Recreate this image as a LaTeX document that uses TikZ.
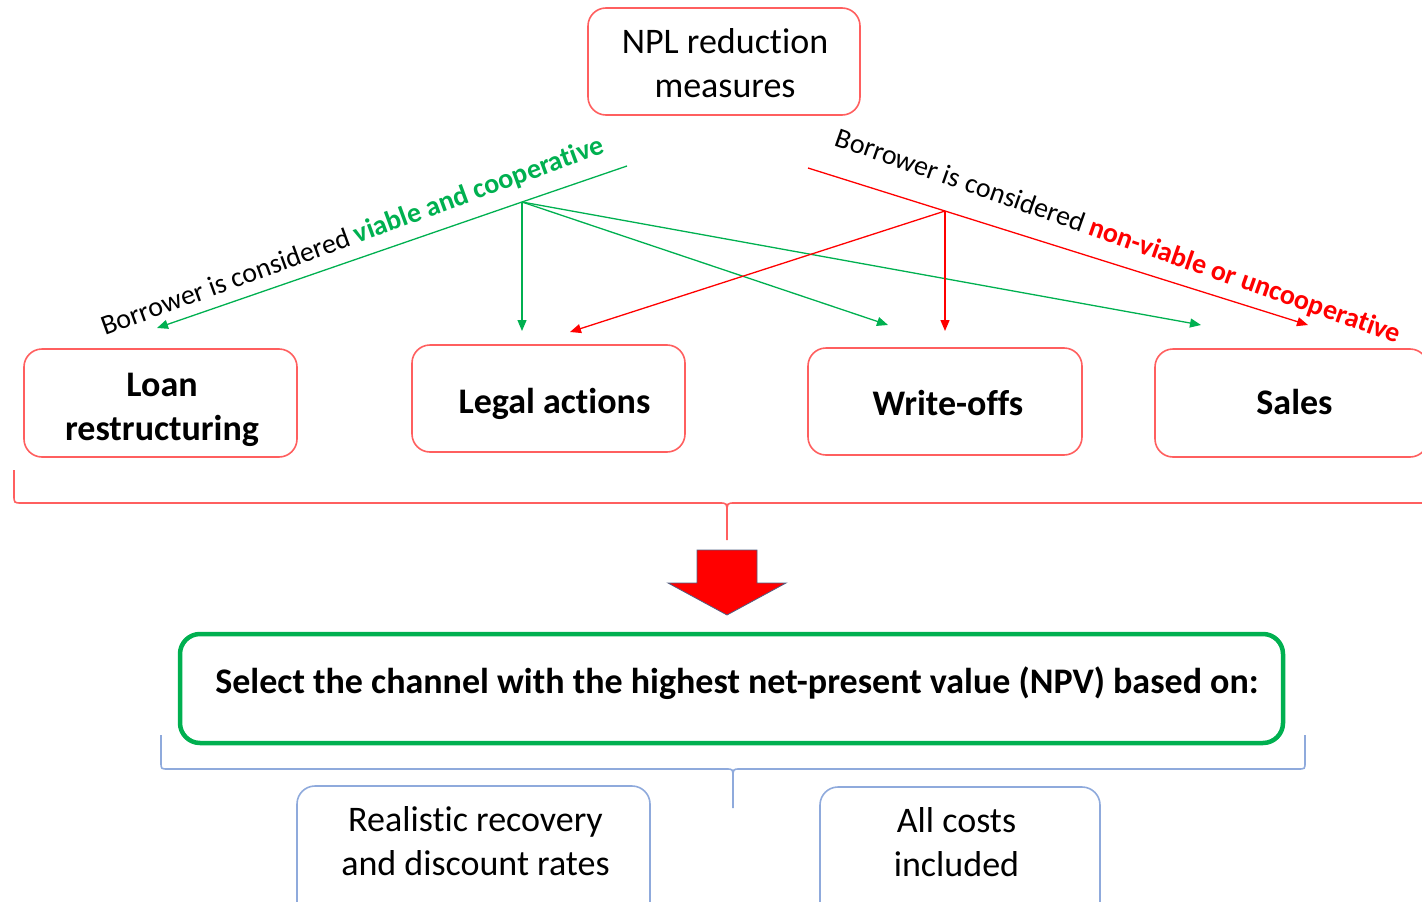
\documentclass[tikz,border=0pt]{standalone}
\usepackage{fontspec}
\setmainfont{Carlito}[Ligatures=NoCommon]
\usetikzlibrary{arrows.meta}
\definecolor{vgreen}{RGB}{0,176,80}
\definecolor{boxred}{RGB}{255,95,95}
\definecolor{lblue}{RGB}{143,170,220}
\definecolor{slate}{RGB}{80,95,130}
\tikzset{
  redbox/.style={draw=boxred, line width=1.6pt, rounded corners=18pt, inner sep=0pt},
  bluebox/.style={draw=lblue, line width=1.6pt, rounded corners=18pt},
  txt/.style={align=center, font=\fontsize{36}{44}\selectfont},
  btxt/.style={align=center, font=\fontsize{36}{44}\selectfont\bfseries},
  garrow/.style={draw=vgreen, line width=1.3pt, -{Triangle[length=11pt,width=9pt]}},
  rarrow/.style={draw=red, line width=1.3pt, -{Triangle[length=11pt,width=9pt]}},
  gline/.style={draw=vgreen, line width=1.3pt},
  rline/.style={draw=red, line width=1.3pt},
  lbl/.style={font=\fontsize{28}{32}\selectfont, inner sep=0pt},
}
\begin{document}
\begin{tikzpicture}[x=1pt,y=-1pt]
\useasboundingbox (0,0) rectangle (1422,902);
\clip (0,0) rectangle (1422,902);

% top node
\node[redbox, minimum width=272pt, minimum height=107pt] (npl) at (724,61.5) {};
\node[txt] (npltxt) at (725,63.5) {NPL reduction\\measures};

% channel boxes
\node[redbox, minimum width=273pt, minimum height=108pt] (loan) at (160.5,403) {};
\node[btxt] (loantxt) at (162,410) {Loan\\restructuring};
\node[redbox, minimum width=273pt, minimum height=107pt] (legal) at (548.5,398.5) {};
\node[btxt] (legaltxt) at (554.5,403.5) {Legal actions};
\node[redbox, minimum width=274pt, minimum height=107pt] (wo) at (945,401.5) {};
\node[btxt] (wotxt) at (948,402.5) {Write-offs};
\node[redbox, minimum width=273pt, minimum height=108pt] (sales) at (1291.5,403) {};
\node[btxt] (salestxt) at (1294.5,402) {Sales};

% green branch
\coordinate (gstart) at (627,166);
\coordinate (ghub) at (522,202);
\coordinate (gLoan) at (157,328);
\coordinate (gLegal) at (522,331);
\coordinate (gWo) at (888,325);
\coordinate (gSales) at (1201,325);
\draw[gline] (gstart) -- (ghub);
\draw[garrow] (ghub) -- (gLoan);
\draw[garrow] (ghub) -- (gLegal);
\draw[garrow] (ghub) -- (gWo);
\draw[garrow] (ghub) -- (gSales);

% red branch
\coordinate (rstart) at (808,168);
\coordinate (rhub) at (945,211);
\coordinate (rSales) at (1308,325);
\coordinate (rWo) at (945,331);
\coordinate (rLegal) at (570,332);
\draw[rline] (rstart) -- (rhub);
\draw[rarrow] (rhub) -- (rSales);
\draw[rarrow] (rhub) -- (rWo);
\draw[rarrow] (rhub) -- (rLegal);

% labels
\node[lbl, rotate=20.1] (lblv) at (353,237) {Borrower is considered \textcolor{vgreen}{\bfseries viable and cooperative}};
\node[lbl, rotate=-19.4] (lbln) at (1118,237) {Borrower is considered \textcolor{red}{\bfseries non-viable or uncooperative}};

% red brace
\draw[boxred, line width=1.6pt] (14,470) -- (14,495) .. controls (14,503) .. (22,503) -- (719,503) .. controls (727,503) .. (727,513) -- (727,540);
\draw[boxred, line width=1.6pt] (727,513) .. controls (727,503) .. (735,503) -- (1430,503);

% block arrow
\node[inner sep=0pt, minimum size=0pt] (bigarrow) at (727,583) {};
\draw[fill=red, draw=slate, line width=0.8pt] (697,550) -- (757,550) -- (757,583) -- (786,583) -- (727,615) -- (668,583) -- (697,583) -- cycle;

% green box
\node[draw=vgreen, line width=4.5pt, rounded corners=20pt, minimum width=1103pt, minimum height=109pt] (npv) at (731.5,688.5) {};
\node[btxt] (npvtxt) at (737,683.5) {Select the channel with the highest net-present value (NPV) based on:};

% blue brace
\draw[lblue, line width=1.6pt] (161,735) -- (161,762) .. controls (161,769) .. (168,769) -- (726,769) .. controls (733,769) .. (733,778) -- (733,808);
\draw[lblue, line width=1.6pt] (733,778) .. controls (733,769) .. (740,769) -- (1298,769) .. controls (1305,769) .. (1305,762) -- (1305,735);

% bottom boxes
\node[bluebox, minimum width=353pt, minimum height=150pt] (rec) at (473.5,861) {};
\node[txt] (rectxt) at (475.5,841) {Realistic recovery\\and discount rates};
\node[bluebox, minimum width=280pt, minimum height=150pt] (cost) at (960,862) {};
\node[txt] (costtxt) at (956.5,842) {All costs\\included};
\end{tikzpicture}
\end{document}
